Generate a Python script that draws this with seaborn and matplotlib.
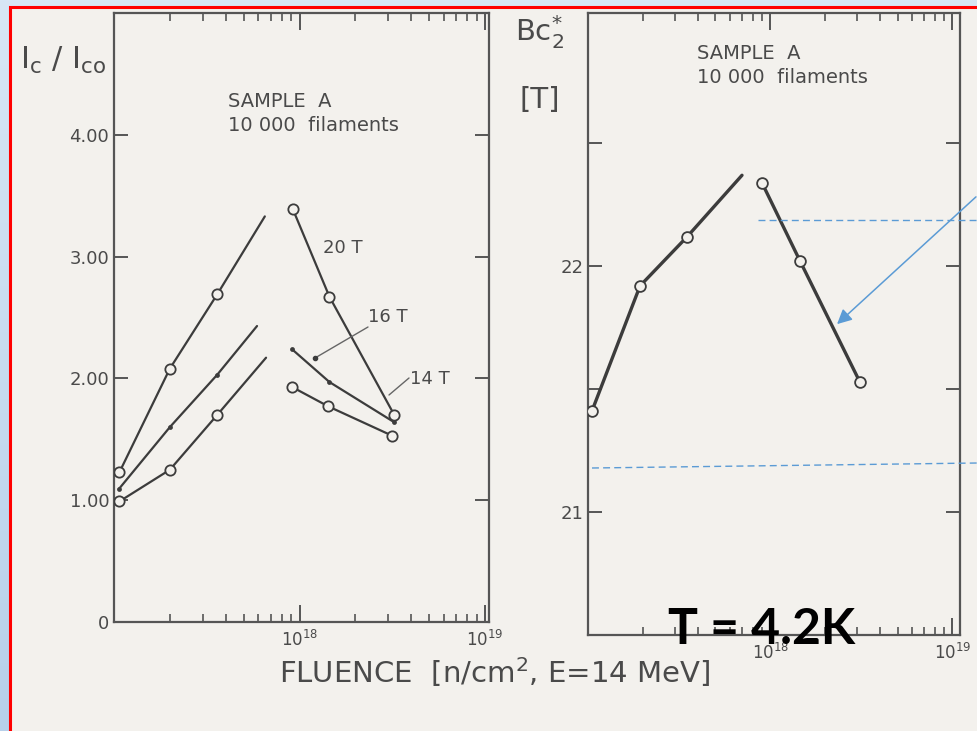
import numpy as np
import pandas as pd
import matplotlib
matplotlib.use("Agg")
import matplotlib.pyplot as plt
import seaborn as sns
from matplotlib.ticker import LogLocator, NullFormatter, FixedLocator, FixedFormatter
from matplotlib.patches import Rectangle, FancyArrowPatch
from matplotlib.lines import Line2D

# ---------------- data ----------------
# Ic/Ico, rising branch (last entry = end of drawn line, not a measured point)
ic20_rise_x = [1.07e17, 2.0e17, 3.6e17, 6.5e17]
ic20_rise_y = [1.23, 2.08, 2.69, 3.33]
ic20_fall_x = [9.2e17, 1.45e18, 3.24e18]
ic20_fall_y = [3.39, 2.67, 1.70]

ic16_rise_x = [1.06e17, 2.0e17, 3.6e17, 5.9e17]
ic16_rise_y = [1.09, 1.60, 2.03, 2.43]
ic16_fall_x = [9.1e17, 1.45e18, 3.24e18]
ic16_fall_y = [2.24, 1.97, 1.64]

ic14_rise_x = [1.07e17, 2.0e17, 3.6e17, 6.6e17]
ic14_rise_y = [0.99, 1.25, 1.70, 2.17]
ic14_fall_x = [9.1e17, 1.43e18, 3.15e18]
ic14_fall_y = [1.93, 1.77, 1.53]

# Bc2* [T]
bc2_rise_x = [1.05e17, 1.93e17, 3.5e17, 7.0e17]
bc2_rise_y = [21.41, 21.92, 22.12, 22.37]
bc2_fall_x = [9.0e17, 1.46e18, 3.1e18]
bc2_fall_y = [22.34, 22.02, 21.53]

series_labels = ["20 T", "16 T", "14 T"]
left_yticks = [0, 1, 2, 3, 4]
left_yticklabels = ["0", "1.00", "2.00", "3.00", "4.00"]
right_yticks = [21, 21.5, 22, 22.5]
right_yticklabels = ["21", "", "22", ""]
xticks_major = [1e18, 1e19]

# ---------------- style ----------------
sns.set_theme(style="ticks")
plt.rcParams["font.family"] = ["DejaVu Sans"]
plt.rcParams["mathtext.default"] = "regular"
PAPER = "#f3f1ed"
INK = "#3c3c3c"
TXT = "#4a4a4a"
BLUE = "#5b9bd5"

W, H = 978, 731
fig = plt.figure(figsize=(W / 100, H / 100), dpi=100)

# background gradient (outer slide) + paper
bg = fig.add_axes([0, 0, 1, 1], zorder=-10)
grad = np.linspace(0, 1, 256).reshape(-1, 1)
cmap = matplotlib.colors.LinearSegmentedColormap.from_list("b", ["#d8e7f5", "#b7d0ea"])
bg.imshow(grad, aspect="auto", cmap=cmap, extent=[0, 1, 0, 1], origin="upper")
bg.set_axis_off()
bg.add_patch(Rectangle((10 / W, -0.01), 1.0, (H - 7) / H + 0.01, transform=bg.transAxes,
                       facecolor=PAPER, edgecolor="#ff0000", linewidth=2.2))


def px_axes(x0, y0, x1, y1):
    return fig.add_axes([x0 / W, (H - y1) / H, (x1 - x0) / W, (y1 - y0) / H])


axL = px_axes(114, 13, 489, 622)
axR = px_axes(588, 13, 960, 635)

for ax in (axL, axR):
    ax.set_facecolor("none")
    ax.set_xscale("log")
    for s in ax.spines.values():
        s.set_color("#555555")
        s.set_linewidth(1.6)
    ax.xaxis.set_major_locator(FixedLocator(xticks_major))
    ax.xaxis.set_minor_locator(LogLocator(base=10, subs=np.arange(2, 10)))
    ax.xaxis.set_minor_formatter(NullFormatter())
    ax.tick_params(which="both", direction="in", top=True, right=True,
                   colors="#555555", labelcolor=TXT, labelsize=12)
    ax.tick_params(which="major", length=12, width=1.4)
    ax.tick_params(which="minor", length=6, width=1.2)
    ax.tick_params(axis="y", which="major", length=10, width=1.4)
    ax.tick_params(axis="x", pad=6)

axL.set_xlim(1e17, 1.05e19)
axL.set_ylim(0, 5.0)
axR.set_xlim(1e17, 1.1e19)
axR.set_ylim(20.5, 23.03)

axL.yaxis.set_major_locator(FixedLocator(left_yticks))
axL.yaxis.set_major_formatter(FixedFormatter(left_yticklabels))
axR.yaxis.set_major_locator(FixedLocator(right_yticks))
axR.yaxis.set_major_formatter(FixedFormatter(right_yticklabels))
axL.tick_params(axis="y", labelsize=13)
axR.tick_params(axis="y", labelsize=13)


def draw_branch(ax, xs, ys, lw, measured, msize, filled):
    df = pd.DataFrame({"x": xs, "y": ys})
    sns.lineplot(data=df, x="x", y="y", ax=ax, color=INK, linewidth=lw,
                 estimator=None, sort=False, legend=False)
    pts = df.iloc[:measured]
    if filled:
        sns.scatterplot(data=pts, x="x", y="y", ax=ax, marker="o", s=msize,
                        color=INK, edgecolor=INK, linewidth=0, zorder=5, legend=False)
    else:
        sns.scatterplot(data=pts, x="x", y="y", ax=ax, marker="o", s=msize,
                        facecolor=PAPER, edgecolor=INK, linewidth=1.3, zorder=5, legend=False)


draw_branch(axL, ic20_rise_x, ic20_rise_y, 1.6, 3, 55, False)
draw_branch(axL, ic20_fall_x, ic20_fall_y, 1.6, 3, 55, False)
draw_branch(axL, ic16_rise_x, ic16_rise_y, 1.6, 3, 12, True)
draw_branch(axL, ic16_fall_x, ic16_fall_y, 1.6, 3, 12, True)
draw_branch(axL, ic14_rise_x, ic14_rise_y, 1.6, 3, 55, False)
draw_branch(axL, ic14_fall_x, ic14_fall_y, 1.6, 3, 55, False)

draw_branch(axR, bc2_rise_x, bc2_rise_y, 2.4, 3, 60, False)
draw_branch(axR, bc2_fall_x, bc2_fall_y, 2.4, 3, 60, False)

for ax in (axL, axR):
    ax.set_xlabel("")
    ax.set_ylabel("")


def fx(px, x0, x1):
    return (px - x0) / (x1 - x0)


def fy(py, y0, y1):
    return (y1 - py) / (y1 - y0)


# series labels
lab_pos = [(343, 248), (388, 317), (430, 379)]
for lab, (px, py) in zip(series_labels, lab_pos):
    axL.text(fx(px, 114, 489), fy(py, 13, 622), lab, transform=axL.transAxes,
             ha="center", va="center", fontsize=13, color=TXT)

# leader lines
axL.add_line(Line2D([fx(368, 114, 489), fx(315, 114, 489)],
                    [fy(327, 13, 622), fy(358, 13, 622)], transform=axL.transAxes,
                    color="#666666", lw=1.0))
axL.plot([fx(315, 114, 489)], [fy(358, 13, 622)], "o", ms=3, color=INK,
         transform=axL.transAxes)
axL.add_line(Line2D([fx(409, 114, 489), fx(389, 114, 489)],
                    [fy(378, 13, 622), fy(395, 13, 622)], transform=axL.transAxes,
                    color="#666666", lw=1.0))

# sample texts
axL.text(fx(228, 114, 489), fy(92, 13, 622), "SAMPLE  A\n10 000  filaments",
         transform=axL.transAxes, ha="left", va="top", fontsize=14, color=TXT,
         linespacing=1.35)
axR.text(fx(697, 588, 960), fy(44, 13, 635), "SAMPLE  A\n10 000  filaments",
         transform=axR.transAxes, ha="left", va="top", fontsize=14, color=TXT,
         linespacing=1.35)

# axis labels
fig.text(20 / W, 1 - 60 / H, r"I$_{c}$ / I$_{co}$", ha="left", va="center",
         fontsize=22, color=TXT)
fig.text(540 / W, 1 - 32 / H, r"Bc$^{*}_{2}$", ha="center", va="center", fontsize=21, color=TXT)
fig.text(540 / W, 1 - 100 / H, "[T]", ha="center", va="center", fontsize=21, color=TXT)
fig.text(495 / W, 1 - 672 / H, r"FLUENCE  [n/cm$^{2}$, E=14 MeV]", ha="center", va="center",
         fontsize=21, color=TXT)

# overlay annotations
fig.text(762 / W, 1 - 629 / H, "T = 4.2K", ha="center", va="center", fontsize=36,
         fontweight="bold", color="black", family=["Lato", "DejaVu Sans"])
fig.add_artist(Line2D([758 / W, 1.0], [1 - 220 / H, 1 - 220 / H], color=BLUE, lw=1.0,
                      ls=(0, (5, 3)), transform=fig.transFigure))
fig.add_artist(Line2D([592 / W, 1.0], [1 - 468 / H, 1 - 463 / H], color=BLUE, lw=1.0,
                      ls=(0, (5, 3)), transform=fig.transFigure))
fig.add_artist(FancyArrowPatch((1.0, 1 - 195 / H), (835 / W, 1 - 326 / H),
                               transform=fig.transFigure, arrowstyle="-|>",
                               mutation_scale=22, color=BLUE, lw=1.1))

fig.savefig("out.png", dpi=100, facecolor=fig.get_facecolor())
